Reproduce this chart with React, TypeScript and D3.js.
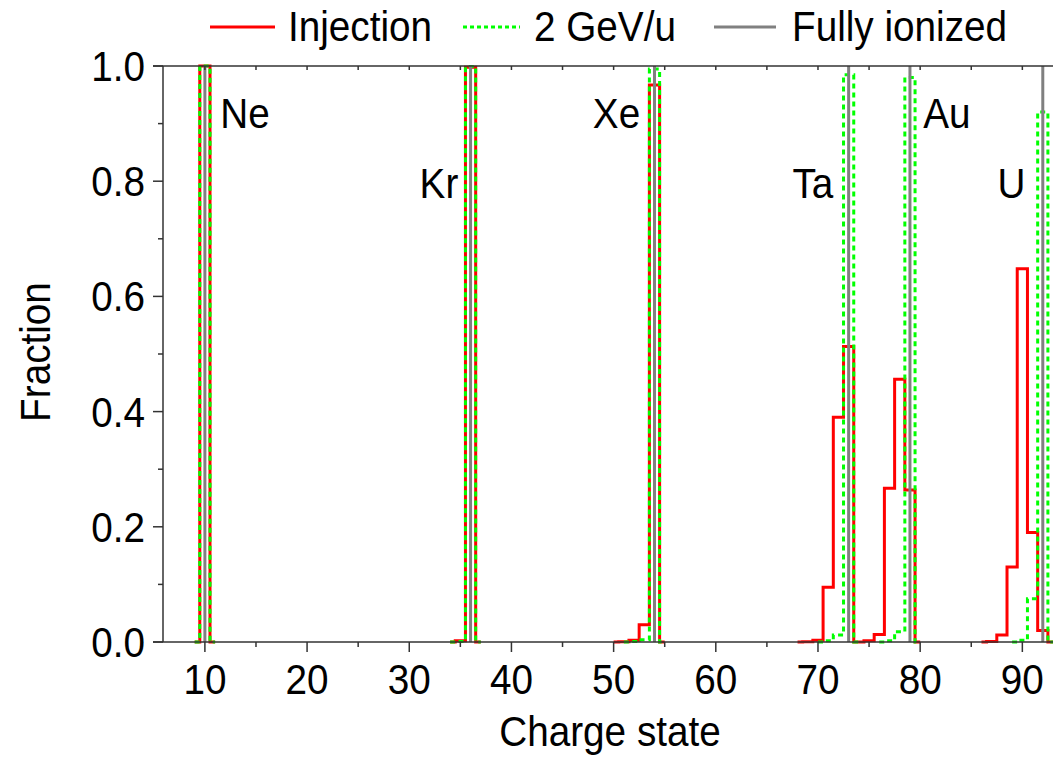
import React from "react";
import * as d3 from "d3";

// charge state distributions, one small array per element (q = charge state, f = fraction)
const neInjection = [
  { q: 9, f: 0 }, { q: 10, f: 1.0 }, { q: 11, f: 0 },
];
const ne2GeV = [
  { q: 9, f: 0 }, { q: 10, f: 1.0 }, { q: 11, f: 0 },
];
const krInjection = [
  { q: 34, f: 0 }, { q: 35, f: 0.002 }, { q: 36, f: 0.998 }, { q: 37, f: 0 },
];
const kr2GeV = [
  { q: 34, f: 0 }, { q: 35, f: 0.001 }, { q: 36, f: 0.999 }, { q: 37, f: 0 },
];
const xeInjection = [
  { q: 50, f: 0 }, { q: 51, f: 0.0005 }, { q: 52, f: 0.003 }, { q: 53, f: 0.03 },
  { q: 54, f: 0.967 }, { q: 55, f: 0 },
];
const xe2GeV = [
  { q: 51, f: 0 }, { q: 52, f: 0.001 }, { q: 53, f: 0.004 }, { q: 54, f: 0.995 }, { q: 55, f: 0 },
];
const taInjection = [
  { q: 68, f: 0 }, { q: 69, f: 0.0005 }, { q: 70, f: 0.003 }, { q: 71, f: 0.095 },
  { q: 72, f: 0.39 }, { q: 73, f: 0.513 }, { q: 74, f: 0 },
];
const ta2GeV = [
  { q: 70, f: 0 }, { q: 71, f: 0.002 }, { q: 72, f: 0.012 }, { q: 73, f: 0.985 }, { q: 74, f: 0 },
];
const auInjection = [
  { q: 74, f: 0 }, { q: 75, f: 0.002 }, { q: 76, f: 0.013 }, { q: 77, f: 0.267 },
  { q: 78, f: 0.456 }, { q: 79, f: 0.264 }, { q: 80, f: 0 },
];
const au2GeV = [
  { q: 76, f: 0 }, { q: 77, f: 0.002 }, { q: 78, f: 0.018 }, { q: 79, f: 0.98 }, { q: 80, f: 0 },
];
const uInjection = [
  { q: 86, f: 0 }, { q: 87, f: 0.001 }, { q: 88, f: 0.012 }, { q: 89, f: 0.13 },
  { q: 90, f: 0.648 }, { q: 91, f: 0.19 }, { q: 92, f: 0.02 }, { q: 93, f: 0 },
];
const u2GeV = [
  { q: 89, f: 0 }, { q: 90, f: 0.003 }, { q: 91, f: 0.075 }, { q: 92, f: 0.92 }, { q: 93, f: 0 },
];

const injectionSeries = [neInjection, krInjection, xeInjection, taInjection, auInjection, uInjection];
const gevSeries = [ne2GeV, kr2GeV, xe2GeV, ta2GeV, au2GeV, u2GeV];

// fully ionized charge state = atomic number
const elements = ["Ne", "Kr", "Xe", "Ta", "Au", "U"];
const atomicNumbers = [10, 36, 54, 73, 79, 92];
// label anchor in data units (charge, fraction) and text anchor
const labelQ = [11.5, 34.8, 52.6, 71.5, 80.3, 90.3];
const labelF = [0.894, 0.773, 0.894, 0.773, 0.894, 0.773];
const labelAnchor = ["start", "end", "end", "end", "start", "end"];

const xMajorTicks = [10, 20, 30, 40, 50, 60, 70, 80, 90];
const xMinorTicks = [15, 25, 35, 45, 55, 65, 75, 85];
const yMajorTicks = [0, 0.2, 0.4, 0.6, 0.8, 1.0];
const yMinorTicks = [0.1, 0.3, 0.5, 0.7, 0.9];

const legendItems = ["Injection", "2 GeV/u", "Fully ionized"];

const RED = "#ff0000";
const GREEN = "#00ff00";
const GRAY = "#808080";
const AXIS = "#333333";
const FONT = "'Liberation Sans', Arial, Helvetica, sans-serif";
const FS = 43;
const SX = 0.9; // glyphs in the original are a bit condensed

// text with a horizontal squeeze
function T({ x, y, anchor = "start", rotate = 0, children }: any) {
  return (
    <text
      transform={`translate(${x},${y}) rotate(${rotate}) scale(${SX},1)`}
      textAnchor={anchor}
      fontSize={FS}
      fill="#000"
    >
      {children}
    </text>
  );
}

export default function App() {
  const width = 1053;
  const height = 758;

  const x = d3.scaleLinear().domain([5.9, 93]).range([163, 1053]);
  const y = d3.scaleLinear().domain([0, 1]).range([642, 66]);

  const step = d3
    .line<{ q: number; f: number }>()
    .x((d) => x(d.q))
    .y((d) => y(d.f))
    .curve(d3.curveStep);

  const x0 = x.range()[0];

  return (
    <svg
      width={width}
      height={height}
      style={{ position: "absolute", left: 0, top: 0, background: "#fff" }}
      fontFamily={FONT}
    >
      <rect x={0} y={0} width={width} height={height} fill="#fff" />

      {/* series */}
      {injectionSeries.map((s, i) => (
        <path key={"r" + i} d={step(s) || ""} fill="none" stroke={RED} strokeWidth={3} />
      ))}
      {gevSeries.map((s, i) => (
        <path
          key={"g" + i}
          d={step(s) || ""}
          fill="none"
          stroke={GREEN}
          strokeWidth={3}
          strokeDasharray="5,4"
        />
      ))}
      {atomicNumbers.map((z, i) => (
        <line key={"z" + i} x1={x(z)} x2={x(z)} y1={y(0)} y2={y(1)} stroke={GRAY} strokeWidth={3} />
      ))}

      {/* frame */}
      <line x1={x0 - 10} x2={x.range()[1]} y1={y(0)} y2={y(0)} stroke={AXIS} strokeWidth={1.5} />
      <line x1={x0 - 10} x2={x.range()[1]} y1={y(1)} y2={y(1)} stroke={AXIS} strokeWidth={1.5} />
      <line x1={x0} x2={x0} y1={y(0)} y2={y(1)} stroke={AXIS} strokeWidth={1.5} />

      {/* x ticks */}
      {xMajorTicks.map((t) => (
        <g key={"xm" + t}>
          <line x1={x(t)} x2={x(t)} y1={y(0)} y2={y(0) + 10} stroke={AXIS} strokeWidth={1.5} />
          <line x1={x(t)} x2={x(t)} y1={y(1)} y2={y(1) + 4} stroke={AXIS} strokeWidth={1.5} />
          <T x={x(t)} y={694} anchor="middle">{t}</T>
        </g>
      ))}
      {xMinorTicks.map((t) => (
        <g key={"xn" + t}>
          <line x1={x(t)} x2={x(t)} y1={y(0)} y2={y(0) + 5} stroke={AXIS} strokeWidth={1.5} />
          <line x1={x(t)} x2={x(t)} y1={y(1)} y2={y(1) + 4} stroke={AXIS} strokeWidth={1.5} />
        </g>
      ))}

      {/* y ticks */}
      {yMajorTicks.map((t) => (
        <g key={"ym" + t}>
          <line x1={x0 - 10} x2={x0} y1={y(t)} y2={y(t)} stroke={AXIS} strokeWidth={1.5} />
          <T x={145} y={y(t) + 15} anchor="end">{t.toFixed(1)}</T>
        </g>
      ))}
      {yMinorTicks.map((t) => (
        <line key={"yn" + t} x1={x0 - 5} x2={x0} y1={y(t)} y2={y(t)} stroke={AXIS} strokeWidth={1.5} />
      ))}

      {/* axis titles */}
      <T x={610} y={746} anchor="middle">Charge state</T>
      <text
        transform={`translate(50,352) rotate(-90) scale(${SX},1)`}
        textAnchor="middle"
        fontSize={FS}
      >
        Fraction
      </text>

      {/* element labels */}
      {elements.map((el, i) => (
        <T key={el} x={x(labelQ[i])} y={y(labelF[i]) + 1} anchor={labelAnchor[i]}>
          {el}
        </T>
      ))}

      {/* legend */}
      <g>
        <line x1={210} x2={275} y1={27} y2={27} stroke={RED} strokeWidth={3} />
        <T x={288} y={41}>{legendItems[0]}</T>
        <line x1={463} x2={520} y1={27} y2={27} stroke={GREEN} strokeWidth={3} strokeDasharray="4,3" />
        <T x={534} y={41}>{legendItems[1]}</T>
        <line x1={714} x2={776} y1={27} y2={27} stroke={GRAY} strokeWidth={3} />
        <T x={792} y={41}>{legendItems[2]}</T>
      </g>
    </svg>
  );
}
